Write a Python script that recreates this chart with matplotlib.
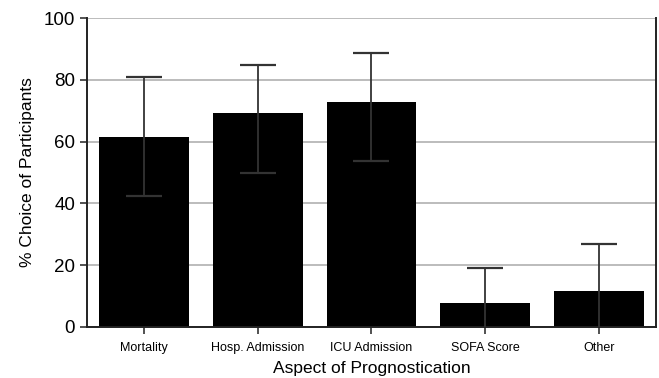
import matplotlib.pyplot as plt
import numpy as np

plt.rcParams['font.family'] = ['Liberation Sans', 'DejaVu Sans']

categories = ['Mortality', 'Hosp. Admission', 'ICU Admission', 'SOFA Score', 'Other']
means = [61.5, 69.3, 73.0, 7.7, 11.6]
err_low = [19.1, 19.4, 19.1, 11.5, 15.3]
err_high = [19.3, 15.5, 15.6, 11.5, 15.3]

fig = plt.figure(figsize=(6.59, 3.78), dpi=100)
ax = fig.add_axes([0.132, 0.135, 0.8634, 0.817])

x = np.arange(len(categories))
ax.bar(x, means, width=0.79, color='black', zorder=2)
ax.errorbar(x, means, yerr=[err_low, err_high], fmt='none', ecolor='#333333',
            elinewidth=1.3, capsize=13, capthick=1.6, zorder=3)

ax.set_xlim(-0.5, len(categories) - 0.5)
ax.set_ylim(0, 100)
ax.set_yticks([0, 20, 40, 60, 80, 100])
ax.yaxis.grid(True, color='#b0b0b0', linewidth=1.2, zorder=0)
ax.set_axisbelow(True)

ax.set_xticks(x, categories)
ax.tick_params(axis='x', labelsize=9, length=5, width=1.2, color='#333333', pad=6)
ax.tick_params(axis='y', labelsize=13.5, length=5, width=1.2, color='#333333')

for side in ['left', 'bottom', 'right']:
    ax.spines[side].set_linewidth(1.4)
    ax.spines[side].set_color('#222222')
ax.spines['top'].set_visible(False)

ax.set_ylabel('% Choice of Participants', fontsize=12.5, labelpad=6)
ax.set_xlabel('Aspect of Prognostication', fontsize=12.5, labelpad=5)

fig.savefig('out.png', dpi=100)
